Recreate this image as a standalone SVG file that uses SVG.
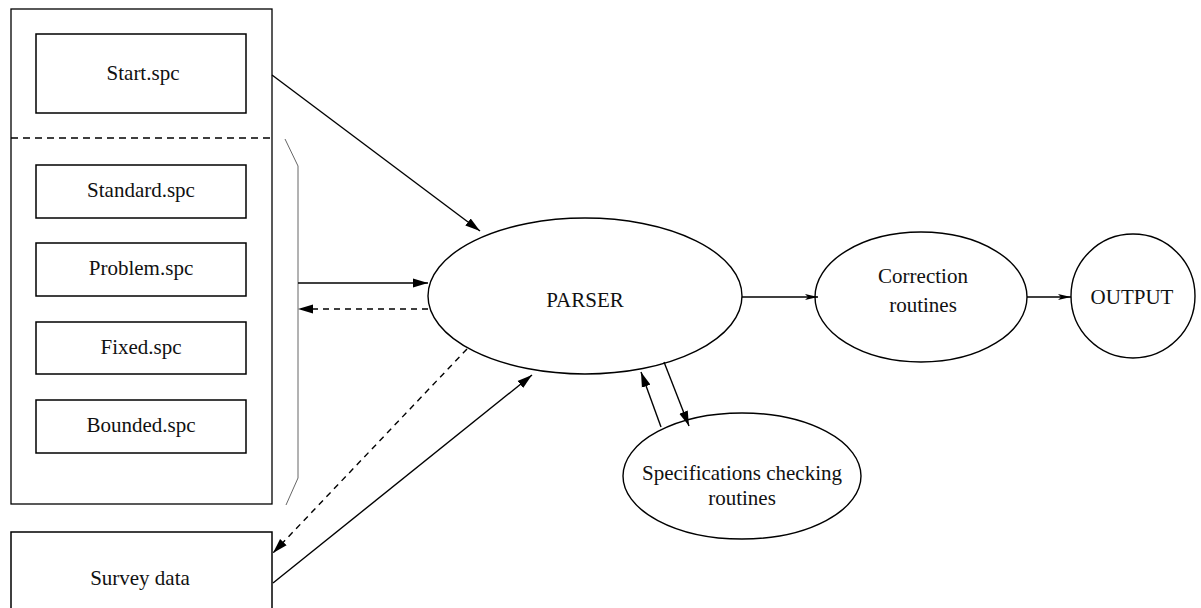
<svg xmlns="http://www.w3.org/2000/svg" width="1201" height="608" viewBox="0 0 1201 608">
<style>
.box{fill:#fff;stroke:#000;stroke-width:1.5}
.outer{fill:none;stroke:#000;stroke-width:1.3}
.ell{fill:#fff;stroke:#000;stroke-width:1.4}
.t{font-family:"Liberation Serif","Times New Roman",serif;font-size:21px;fill:#111;text-anchor:middle}
.c{fill:none;stroke:#000;stroke-width:1.4}
.d{fill:none;stroke:#000;stroke-width:1.4;stroke-dasharray:6,5}
.br{fill:none;stroke:#666;stroke-width:1}
</style>
<defs>
<marker id="ah" markerUnits="userSpaceOnUse" markerWidth="16" markerHeight="10" refX="15" refY="5" orient="auto">
<path d="M0,0.5 L15,5 L0,9.5 z" fill="#000"/>
</marker>
<marker id="ahs" markerUnits="userSpaceOnUse" markerWidth="14" markerHeight="8" refX="13" refY="4" orient="auto">
<path d="M0,1 L13,4 L0,7 L3,4 z" fill="#000"/>
</marker>
</defs>

<g id="spec-group">
<rect class="outer" x="11" y="9" width="261" height="495"/>
<line x1="11" y1="138" x2="272" y2="138" stroke="#000" stroke-width="1.4" stroke-dasharray="7,5"/>
<path class="br" d="M285,139 L298,166 L298,478 L286,505"/>
</g>
<g id="start"><rect class="box" x="36" y="34" width="210" height="79"/><text class="t" x="143" y="80">Start.spc</text></g>
<g id="standard"><rect class="box" x="36" y="165" width="210" height="53"/><text class="t" x="141" y="197">Standard.spc</text></g>
<g id="problem"><rect class="box" x="36" y="243" width="210" height="53"/><text class="t" x="141" y="275">Problem.spc</text></g>
<g id="fixed"><rect class="box" x="36" y="322" width="210" height="52"/><text class="t" x="141" y="354">Fixed.spc</text></g>
<g id="bounded"><rect class="box" x="36" y="400" width="210" height="53"/><text class="t" x="141" y="432">Bounded.spc</text></g>
<g id="survey"><rect class="box" x="11" y="532" width="261" height="90"/><text class="t" x="140" y="585">Survey data</text></g>

<g id="parser"><ellipse class="ell" cx="585" cy="296" rx="157" ry="78"/><text class="t" x="585" y="307">PARSER</text></g>
<g id="correction"><ellipse class="ell" cx="921" cy="297" rx="106" ry="65"/><text class="t" x="923" y="283">Correction</text><text class="t" x="923" y="312">routines</text></g>
<g id="output"><circle class="ell" cx="1133" cy="296" r="62"/><text class="t" x="1132" y="304">OUTPUT</text></g>
<g id="specs"><ellipse class="ell" cx="742" cy="476" rx="119" ry="63"/><text class="t" x="742" y="480">Specifications checking</text><text class="t" x="742" y="505">routines</text></g>

<g id="connectors">
<line class="c" x1="272" y1="75" x2="480" y2="231" marker-end="url(#ah)"/>
<line class="c" x1="298" y1="283" x2="428" y2="283" marker-end="url(#ah)"/>
<line class="d" x1="428" y1="309" x2="298" y2="309" marker-end="url(#ah)"/>
<line class="d" x1="467" y1="349" x2="273" y2="553" marker-end="url(#ah)"/>
<line class="c" x1="273" y1="583" x2="532" y2="375" marker-end="url(#ah)"/>
<line class="c" x1="661" y1="427" x2="641" y2="372" marker-end="url(#ah)"/>
<line class="c" x1="664" y1="362" x2="689" y2="426" marker-end="url(#ah)"/>
<line class="c" x1="742" y1="297" x2="818" y2="297" marker-end="url(#ahs)"/>
<line class="c" x1="1027" y1="297" x2="1071" y2="297" marker-end="url(#ahs)"/>
</g>
</svg>
